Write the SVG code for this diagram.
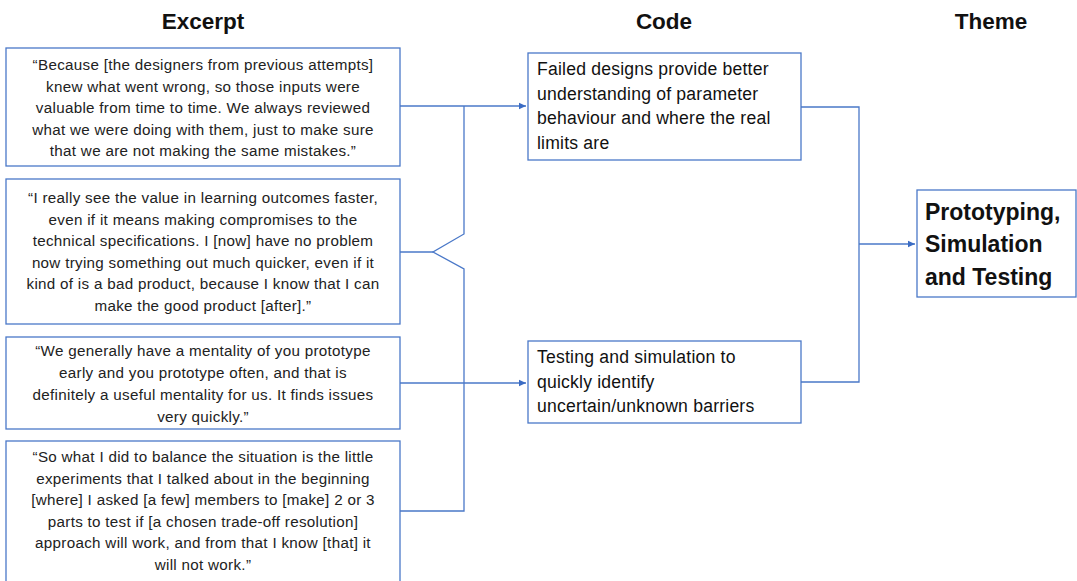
<svg xmlns="http://www.w3.org/2000/svg" width="1077" height="581" viewBox="0 0 1077 581">
<style>
.box{fill:#fff;stroke:#4a78c8;stroke-width:1.3}
.ex{font-family:"Liberation Sans",Arial,sans-serif;font-size:15.2px;letter-spacing:0.3px;fill:#222;text-anchor:middle}
.cd{font-family:"Liberation Sans",Arial,sans-serif;font-size:17.6px;letter-spacing:0.2px;fill:#111}
.hd{font-family:"Liberation Sans",Arial,sans-serif;font-size:22.5px;font-weight:bold;fill:#111;text-anchor:middle}
.th{font-family:"Liberation Sans",Arial,sans-serif;font-size:23px;font-weight:bold;fill:#111}
.ln{fill:none;stroke:#4a78c8;stroke-width:1.3}
</style>
<defs>
<marker id="ar" markerWidth="8" markerHeight="8" refX="7" refY="4" orient="auto" markerUnits="userSpaceOnUse">
<path d="M0,0.8 L7,4 L0,7.2 z" fill="#3b6cc4"/>
</marker>
</defs>
<g id="headers">
<text class="hd" x="203" y="29">Excerpt</text>
<text class="hd" x="664" y="29">Code</text>
<text class="hd" x="991" y="29">Theme</text>
</g>
<g id="connectors">
<path class="ln" d="M400,106 H526" marker-end="url(#ar)"/>
<path class="ln" d="M464,106 V234 L433,252 L464,269 V511 H400"/>
<path class="ln" d="M400,252 H433"/>
<path class="ln" d="M400,383 H526" marker-end="url(#ar)"/>
<path class="ln" d="M801,107 H859 V382 H801"/>
<path class="ln" d="M859,244 H915" marker-end="url(#ar)"/>
</g>
<g id="ex1">
<rect class="box" x="6" y="48" width="394" height="118"/>
<text class="ex" x="203" y="70">“Because [the designers from previous attempts]</text>
<text class="ex" x="203" y="91.5">knew what went wrong, so those inputs were</text>
<text class="ex" x="203" y="113">valuable from time to time. We always reviewed</text>
<text class="ex" x="203" y="134.5">what we were doing with them, just to make sure</text>
<text class="ex" x="203" y="156">that we are not making the same mistakes.”</text>
</g>
<g id="ex2">
<rect class="box" x="6" y="179" width="394" height="145"/>
<text class="ex" x="203" y="203">“I really see the value in learning outcomes faster,</text>
<text class="ex" x="203" y="224.5">even if it means making compromises to the</text>
<text class="ex" x="203" y="246">technical specifications. I [now] have no problem</text>
<text class="ex" x="203" y="267.5">now trying something out much quicker, even if it</text>
<text class="ex" x="203" y="289">kind of is a bad product, because I know that I can</text>
<text class="ex" x="203" y="310.5">make the good product [after].”</text>
</g>
<g id="ex3">
<rect class="box" x="6" y="337" width="394" height="92"/>
<text class="ex" x="203" y="356">“We generally have a mentality of you prototype</text>
<text class="ex" x="203" y="378">early and you prototype often, and that is</text>
<text class="ex" x="203" y="400">definitely a useful mentality for us. It finds issues</text>
<text class="ex" x="203" y="422">very quickly.”</text>
</g>
<g id="ex4">
<rect class="box" x="6" y="441" width="394" height="145"/>
<text class="ex" x="203" y="462">“So what I did to balance the situation is the little</text>
<text class="ex" x="203" y="483.5">experiments that I talked about in the beginning</text>
<text class="ex" x="203" y="505">[where] I asked [a few] members to [make] 2 or 3</text>
<text class="ex" x="203" y="526.5">parts to test if [a chosen trade-off resolution]</text>
<text class="ex" x="203" y="548">approach will work, and from that I know [that] it</text>
<text class="ex" x="203" y="569.5">will not work.”</text>
</g>
<g id="code1">
<rect class="box" x="528" y="53" width="273" height="107"/>
<text class="cd" x="537" y="75">Failed designs provide better</text>
<text class="cd" x="537" y="99.5">understanding of parameter</text>
<text class="cd" x="537" y="124">behaviour and where the real</text>
<text class="cd" x="537" y="148.5">limits are</text>
</g>
<g id="code2">
<rect class="box" x="528" y="341" width="273" height="82"/>
<text class="cd" x="537" y="363">Testing and simulation to</text>
<text class="cd" x="537" y="387.5">quickly identify</text>
<text class="cd" x="537" y="412">uncertain/unknown barriers</text>
</g>
<g id="theme">
<rect class="box" x="917" y="190" width="159" height="107"/>
<text class="th" x="925" y="220">Prototyping,</text>
<text class="th" x="925" y="252">Simulation</text>
<text class="th" x="925" y="285">and Testing</text>
</g>
</svg>
